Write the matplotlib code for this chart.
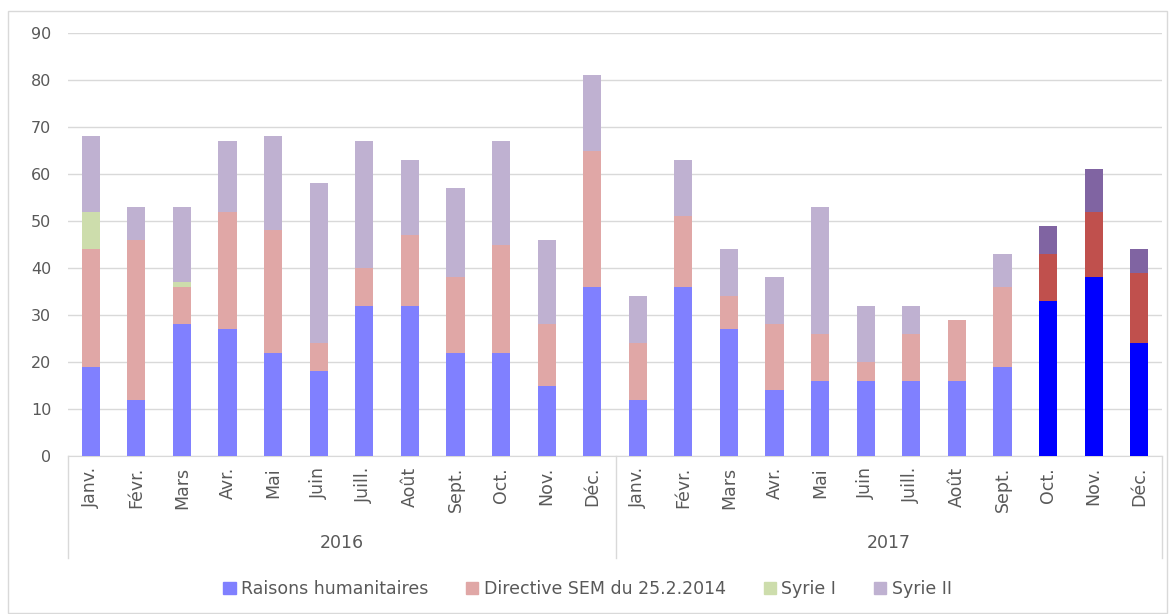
import numpy as np
import matplotlib.pyplot as plt
from matplotlib.patches import Patch, Rectangle
from matplotlib.lines import Line2D

# --- DATA ---
months = ["Janv.", "Févr.", "Mars", "Avr.", "Mai", "Juin", "Juill.", "Août",
          "Sept.", "Oct.", "Nov.", "Déc."]
years = ["2016", "2017"]
labels = months + months

humanitaires = [19, 12, 28, 27, 22, 18, 32, 32, 22, 22, 15, 36,
                12, 36, 27, 14, 16, 16, 16, 16, 19, 33, 38, 24]
directive = [25, 34, 8, 25, 26, 6, 8, 15, 16, 23, 13, 29,
             12, 15, 7, 14, 10, 4, 10, 13, 17, 10, 14, 15]
syrie1 = [8, 0, 1, 0, 0, 0, 0, 0, 0, 0, 0, 0,
          0, 0, 0, 0, 0, 0, 0, 0, 0, 0, 0, 0]
syrie2 = [16, 7, 16, 15, 20, 34, 27, 16, 19, 22, 18, 16,
          10, 12, 10, 10, 27, 12, 6, 0, 7, 6, 9, 5]
n_dark = 3  # last months in full colour

series = ["Raisons humanitaires", "Directive SEM du 25.2.2014", "Syrie I", "Syrie II"]
light = ["#8080FF", "#E0A7A6", "#CDDDAC", "#BFB1D1"]
dark = ["#0000FF", "#C0504D", "#9BBB59", "#8064A2"]

grey = "#595959"
line_grey = "#D9D9D9"

# --- PLOT ---
fig = plt.figure(figsize=(11.75, 6.14), dpi=100)
ax = fig.add_axes([68 / 1175, 1 - 456 / 614, (1162 - 68) / 1175, (456 - 33) / 614])

x = np.arange(len(labels))
bottom = np.zeros(len(labels))
for vals, cl, cd in zip([humanitaires, directive, syrie1, syrie2], light, dark):
    cols = [cl] * (len(labels) - n_dark) + [cd] * n_dark
    ax.bar(x, vals, width=0.4, bottom=bottom, color=cols, zorder=3)
    bottom += np.array(vals)

ax.set_xlim(-0.5, len(labels) - 0.5)
ax.set_ylim(0, 90)
ax.set_yticks(range(0, 91, 10))
ax.tick_params(axis='y', length=0, colors=grey, labelsize=11.5, pad=12)
ax.grid(axis='y', color=line_grey, linewidth=1, zorder=0)
ax.set_xticks(x)
ax.set_xticklabels(labels, rotation=90, color=grey, fontsize=12.5)
ax.tick_params(axis='x', length=0, pad=8)
for s in ['top', 'right', 'left']:
    ax.spines[s].set_visible(False)
ax.spines['bottom'].set_color(line_grey)

# category separators and year labels
for xs in [68, 616, 1162]:
    fig.add_artist(Line2D([xs / 1175, xs / 1175], [1 - 456 / 614, 1 - 558 / 614],
                          color=line_grey, linewidth=1))
for i, yr in enumerate(years):
    ax.text(i * 12 + 5.5, -0.205, yr, transform=ax.get_xaxis_transform(),
            ha='center', va='center', color=grey, fontsize=12.5)

# outer frame
fig.add_artist(Rectangle((8 / 1175, 0.002), 1 - 16 / 1175, 1 - 12 / 614,
                         transform=fig.transFigure, fill=False,
                         edgecolor=line_grey, linewidth=1))

handles = [Patch(color=c) for c in light]
fig.legend(handles, series, loc='center', bbox_to_anchor=(0.5, 1 - 589 / 614),
           ncol=4, frameon=False, fontsize=12.5, handlelength=0.7, handleheight=0.7,
           handletextpad=0.3, columnspacing=2.2, labelcolor=grey)

plt.savefig("out.png", dpi=100)
